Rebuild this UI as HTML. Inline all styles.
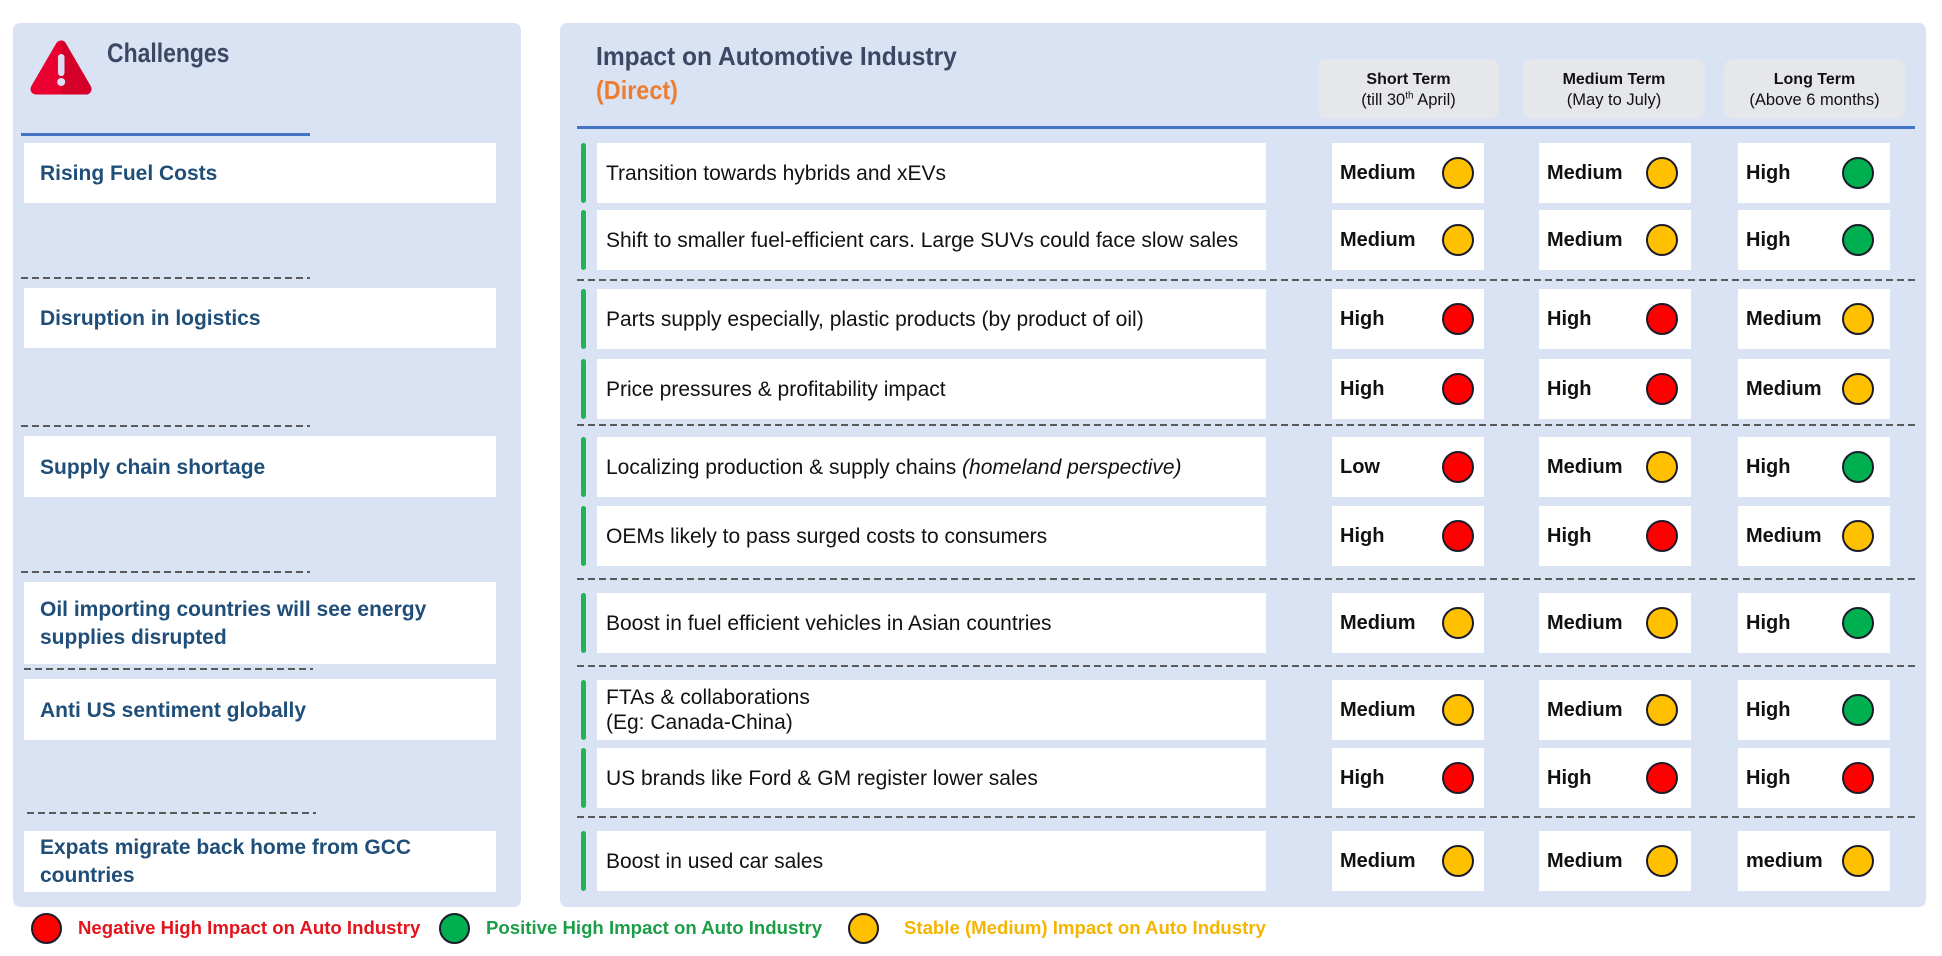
<!DOCTYPE html>
<html>
<head>
<meta charset="utf-8">
<style>
  html,body{margin:0;padding:0;}
  body{width:1942px;height:956px;position:relative;background:#fff;overflow:hidden;font-family:"Liberation Sans",Arial,sans-serif;}
  .panel{position:absolute;background:#dae3f3;border-radius:7px;}
  .lbox{position:absolute;left:24px;width:456px;padding-left:16px;background:#fff;display:flex;align-items:center;font-size:21px;font-weight:bold;color:#1f4e79;line-height:28px;}
  .dash{position:absolute;height:2px;background:repeating-linear-gradient(to right,#5a5a5a 0 7px,transparent 7px 11px);}
  .row{position:absolute;left:0;width:1942px;height:60px;}
  .bar{position:absolute;left:581px;top:0;width:5px;height:60px;border-radius:3px;background:#22b357;}
  .tx{position:absolute;left:597px;top:0;width:660px;padding-left:9px;height:60px;background:#fff;display:flex;align-items:center;font-size:21px;color:#111;line-height:25px;}
  .v{position:absolute;top:0;height:60px;width:152px;background:#fff;}
  .v1{left:1332px}.v2{left:1539px}.v3{left:1738px}
  .v b{position:absolute;left:8px;top:0;line-height:60px;font-size:20px;color:#111;}
  .c{position:absolute;top:14px;width:28px;height:28px;border:2px solid #1b1b2b;border-radius:50%;}
  .v1 .c{left:110px}.v2 .c{left:107px}.v3 .c{left:104px}
  .y{background:#ffc000}.g{background:#00b050}.r{background:#ff0000}
  .hdr{position:absolute;top:59px;height:60px;background:#e6e7eb;border-radius:9px;text-align:center;color:#111;}
  .hdr div{position:absolute;left:0;right:0;}
  .hdr .a{top:12px;font-size:16px;font-weight:bold;line-height:18px;}
  .hdr .b{top:32px;font-size:16.5px;line-height:19px;}
  .lg{position:absolute;top:913px;width:27px;height:27px;border:2.5px solid #1b1b2b;border-radius:50%;}
  .lt{position:absolute;top:917px;font-size:18.6px;font-weight:bold;line-height:22px;white-space:nowrap;}
</style>
</head>
<body>

<!-- Left panel -->
<div class="panel" style="left:13px;top:23px;width:508px;height:884px;"></div>

<svg style="position:absolute;left:0;top:0" width="110" height="110" viewBox="0 0 110 110">
  <defs><clipPath id="rh"><rect x="61" y="0" width="50" height="110"/></clipPath></defs>
  <polygon points="61,46 36,89 86,89" fill="#ea0030" stroke="#ea0030" stroke-width="11" stroke-linejoin="round"/>
  <polygon points="61,46 36,89 86,89" fill="#d4002a" stroke="#d4002a" stroke-width="11" stroke-linejoin="round" clip-path="url(#rh)"/>
  <rect x="58" y="54" width="6.5" height="22" rx="3.2" fill="#dcdcf4"/>
  <circle cx="61.2" cy="82" r="4" fill="#dcdcf4"/>
</svg>

<div style="position:absolute;left:107px;top:40px;font-size:27px;line-height:27px;font-weight:bold;color:#3b4863;transform:scaleX(0.85);transform-origin:0 0;white-space:nowrap;">Challenges</div>

<div style="position:absolute;left:21px;top:133px;width:289px;height:2.5px;background:#4472c4;"></div>

<div class="lbox" style="top:143px;height:58px;padding-top:2px;">Rising Fuel Costs</div>
<div class="dash" style="left:21px;top:277px;width:289px;"></div>
<div class="lbox" style="top:288px;height:58px;padding-top:2px;">Disruption in logistics</div>
<div class="dash" style="left:21px;top:425px;width:289px;"></div>
<div class="lbox" style="top:436px;height:59px;padding-top:2px;">Supply chain shortage</div>
<div class="dash" style="left:21px;top:571px;width:289px;"></div>
<div class="lbox" style="top:582px;height:80px;padding-top:2px;">Oil importing countries will see energy<br>supplies disrupted</div>
<div class="dash" style="left:24px;top:668px;width:289px;"></div>
<div class="lbox" style="top:679px;height:59px;padding-top:2px;">Anti US sentiment globally</div>
<div class="dash" style="left:27px;top:812px;width:289px;"></div>
<div class="lbox" style="top:831px;height:61px;align-items:flex-start;"><div style="padding-top:3px;">Expats migrate back home from GCC<br>countries</div></div>

<!-- Right panel -->
<div class="panel" style="left:560px;top:23px;width:1366px;height:884px;"></div>

<div style="position:absolute;left:596px;top:43px;font-size:26px;line-height:26px;font-weight:bold;color:#3b4863;transform:scaleX(0.945);transform-origin:0 0;white-space:nowrap;">Impact on Automotive Industry</div>
<div style="position:absolute;left:596px;top:77px;font-size:26px;line-height:26px;font-weight:bold;color:#ed7d31;transform:scaleX(0.9);transform-origin:0 0;white-space:nowrap;">(Direct)</div>

<div class="hdr" style="left:1318px;width:181px;"><div class="a">Short Term</div><div class="b">(till 30<sup style="font-size:10px;line-height:0;">th</sup> April)</div></div>
<div class="hdr" style="left:1523px;width:182px;"><div class="a">Medium Term</div><div class="b">(May to July)</div></div>
<div class="hdr" style="left:1724px;width:181px;"><div class="a">Long Term</div><div class="b">(Above 6 months)</div></div>

<div style="position:absolute;left:577px;top:126px;width:1338px;height:3px;background:#4472c4;"></div>

<!-- Rows -->
<div class="row" style="top:143px">
  <div class="bar"></div>
  <div class="tx">Transition towards hybrids and xEVs</div>
  <div class="v v1"><b>Medium</b><span class="c y"></span></div>
  <div class="v v2"><b>Medium</b><span class="c y"></span></div>
  <div class="v v3"><b>High</b><span class="c g"></span></div>
</div>
<div class="row" style="top:210px">
  <div class="bar"></div>
  <div class="tx">Shift to smaller fuel-efficient cars. Large SUVs could face slow sales</div>
  <div class="v v1"><b>Medium</b><span class="c y"></span></div>
  <div class="v v2"><b>Medium</b><span class="c y"></span></div>
  <div class="v v3"><b>High</b><span class="c g"></span></div>
</div>
<div class="dash" style="left:577px;top:279px;width:1338px;"></div>
<div class="row" style="top:289px">
  <div class="bar"></div>
  <div class="tx">Parts supply especially, plastic products (by product of oil)</div>
  <div class="v v1"><b>High</b><span class="c r"></span></div>
  <div class="v v2"><b>High</b><span class="c r"></span></div>
  <div class="v v3"><b>Medium</b><span class="c y"></span></div>
</div>
<div class="row" style="top:359px">
  <div class="bar"></div>
  <div class="tx">Price pressures &amp; profitability impact</div>
  <div class="v v1"><b>High</b><span class="c r"></span></div>
  <div class="v v2"><b>High</b><span class="c r"></span></div>
  <div class="v v3"><b>Medium</b><span class="c y"></span></div>
</div>
<div class="dash" style="left:577px;top:424px;width:1338px;"></div>
<div class="row" style="top:437px">
  <div class="bar"></div>
  <div class="tx"><span>Localizing production &amp; supply chains <i>(homeland perspective)</i></span></div>
  <div class="v v1"><b>Low</b><span class="c r"></span></div>
  <div class="v v2"><b>Medium</b><span class="c y"></span></div>
  <div class="v v3"><b>High</b><span class="c g"></span></div>
</div>
<div class="row" style="top:506px">
  <div class="bar"></div>
  <div class="tx">OEMs likely to pass surged costs to consumers</div>
  <div class="v v1"><b>High</b><span class="c r"></span></div>
  <div class="v v2"><b>High</b><span class="c r"></span></div>
  <div class="v v3"><b>Medium</b><span class="c y"></span></div>
</div>
<div class="dash" style="left:577px;top:578px;width:1338px;"></div>
<div class="row" style="top:593px">
  <div class="bar"></div>
  <div class="tx">Boost in fuel efficient vehicles in Asian countries</div>
  <div class="v v1"><b>Medium</b><span class="c y"></span></div>
  <div class="v v2"><b>Medium</b><span class="c y"></span></div>
  <div class="v v3"><b>High</b><span class="c g"></span></div>
</div>
<div class="dash" style="left:577px;top:665px;width:1338px;"></div>
<div class="row" style="top:680px">
  <div class="bar"></div>
  <div class="tx"><span>FTAs &amp; collaborations<br>(Eg: Canada-China)</span></div>
  <div class="v v1"><b>Medium</b><span class="c y"></span></div>
  <div class="v v2"><b>Medium</b><span class="c y"></span></div>
  <div class="v v3"><b>High</b><span class="c g"></span></div>
</div>
<div class="row" style="top:748px">
  <div class="bar"></div>
  <div class="tx">US brands like Ford &amp; GM register lower sales</div>
  <div class="v v1"><b>High</b><span class="c r"></span></div>
  <div class="v v2"><b>High</b><span class="c r"></span></div>
  <div class="v v3"><b>High</b><span class="c r"></span></div>
</div>
<div class="dash" style="left:577px;top:816px;width:1338px;"></div>
<div class="row" style="top:831px">
  <div class="bar"></div>
  <div class="tx">Boost in used car sales</div>
  <div class="v v1"><b>Medium</b><span class="c y"></span></div>
  <div class="v v2"><b>Medium</b><span class="c y"></span></div>
  <div class="v v3"><b>medium</b><span class="c y"></span></div>
</div>

<!-- Legend -->
<span class="lg r" style="left:31px;"></span>
<div class="lt" style="left:78px;color:#e3141c;">Negative High Impact on Auto Industry</div>
<span class="lg g" style="left:439px;"></span>
<div class="lt" style="left:486px;color:#1c9e48;">Positive High Impact on Auto Industry</div>
<span class="lg y" style="left:848px;"></span>
<div class="lt" style="left:904px;color:#f4b400;">Stable (Medium) Impact on Auto Industry</div>

</body>
</html>
